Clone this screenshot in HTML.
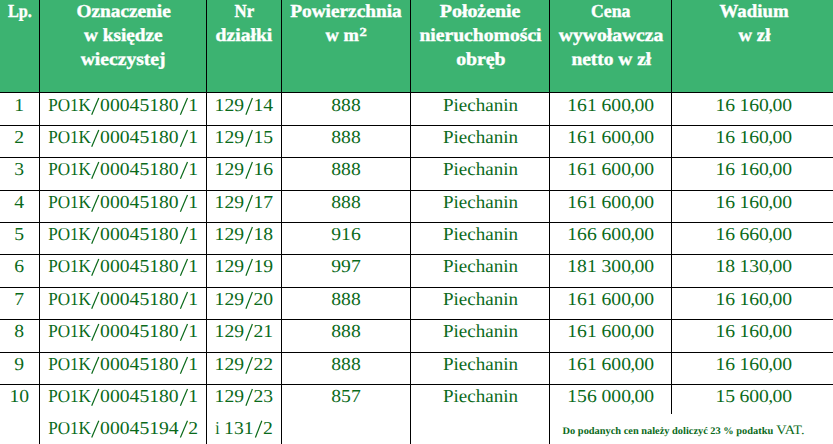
<!DOCTYPE html>
<html lang="pl">
<head>
<meta charset="utf-8">
<title>Tabela</title>
<style>
html,body{margin:0;padding:0;background:#fff;overflow:hidden}
body{width:833px;height:444px;font-family:"Liberation Serif",serif}
svg{display:block}
text{font-family:"Liberation Serif",serif;text-rendering:geometricPrecision}
.h{fill:#fff;font-weight:bold;stroke:#fff;stroke-width:0.4}
.b{fill:#0a6a1a}
.n{fill:#0a6a1a;font-weight:bold}
.v{fill:#0a6a1a}
.s{stroke:#0a6a1a;stroke-width:1.2;fill:none}
</style>
</head>
<body>
<svg width="833" height="444" viewBox="0 0 833 444">
<rect x="0" y="0" width="833" height="444" fill="#fff"/>
<rect x="0" y="0" width="833" height="92" fill="#3cb371"/>
<g fill="#000" shape-rendering="crispEdges">
<rect x="0" y="92" width="833" height="1"/>
<rect x="0" y="125" width="833" height="1"/>
<rect x="0" y="157" width="833" height="1"/>
<rect x="0" y="190" width="833" height="1"/>
<rect x="0" y="222" width="833" height="1"/>
<rect x="0" y="254" width="833" height="1"/>
<rect x="0" y="287" width="833" height="1"/>
<rect x="0" y="319" width="833" height="1"/>
<rect x="0" y="352" width="833" height="1"/>
<rect x="0" y="384" width="833" height="1"/>
<rect x="39" y="0" width="1" height="444"/>
<rect x="206" y="0" width="1" height="444"/>
<rect x="281" y="0" width="1" height="444"/>
<rect x="410" y="0" width="1" height="444"/>
<rect x="549" y="0" width="1" height="444"/>
<rect x="671" y="0" width="1" height="414"/>
</g>
<text class="h" x="8.00" y="17.00" textLength="23.90" lengthAdjust="spacingAndGlyphs" font-size="18.3">Lp.</text>
<text class="h" x="76.40" y="17.00" textLength="94.40" lengthAdjust="spacingAndGlyphs" font-size="18.3">Oznaczenie</text>
<text class="h" x="84.00" y="41.00" textLength="78.60" lengthAdjust="spacingAndGlyphs" font-size="18.3">w księdze</text>
<text class="h" x="80.70" y="65.00" textLength="84.90" lengthAdjust="spacingAndGlyphs" font-size="18.3">wieczystej</text>
<text class="h" x="234.60" y="17.00" textLength="19.60" lengthAdjust="spacingAndGlyphs" font-size="18.3">Nr</text>
<text class="h" x="215.60" y="41.00" textLength="56.70" lengthAdjust="spacingAndGlyphs" font-size="18.3">działki</text>
<text class="h" x="290.20" y="17.00" textLength="111.50" lengthAdjust="spacingAndGlyphs" font-size="18.3">Powierzchnia</text>
<text class="h" x="325.50" y="41.00" textLength="33.30" lengthAdjust="spacingAndGlyphs" font-size="18.3">w m</text>
<text class="h" x="359.60" y="36.00" textLength="7.30" lengthAdjust="spacingAndGlyphs" font-size="12.3">2</text>
<text class="h" x="439.80" y="17.00" textLength="80.60" lengthAdjust="spacingAndGlyphs" font-size="18.3">Położenie</text>
<text class="h" x="419.40" y="41.00" textLength="122.20" lengthAdjust="spacingAndGlyphs" font-size="18.3">nieruchomości</text>
<text class="h" x="456.20" y="65.00" textLength="49.40" lengthAdjust="spacingAndGlyphs" font-size="18.3">obręb</text>
<text class="h" x="591.00" y="17.00" textLength="39.40" lengthAdjust="spacingAndGlyphs" font-size="18.3">Cena</text>
<text class="h" x="558.80" y="41.00" textLength="104.50" lengthAdjust="spacingAndGlyphs" font-size="18.3">wywoławcza</text>
<text class="h" x="571.40" y="65.00" textLength="79.80" lengthAdjust="spacingAndGlyphs" font-size="18.3">netto w zł</text>
<text class="h" x="719.60" y="17.00" textLength="69.00" lengthAdjust="spacingAndGlyphs" font-size="18.3">Wadium</text>
<text class="h" x="738.60" y="41.00" textLength="31.80" lengthAdjust="spacingAndGlyphs" font-size="18.3">w zł</text>
<text class="b" x="48.20" y="111.00" textLength="42.80" lengthAdjust="spacingAndGlyphs" font-size="18.3">PO1K</text>
<text class="b" x="443.00" y="111.00" textLength="75.00" lengthAdjust="spacingAndGlyphs" font-size="18.3">Piechanin</text>
<text class="b" x="48.20" y="143.00" textLength="42.80" lengthAdjust="spacingAndGlyphs" font-size="18.3">PO1K</text>
<text class="b" x="443.00" y="143.00" textLength="75.00" lengthAdjust="spacingAndGlyphs" font-size="18.3">Piechanin</text>
<text class="b" x="48.20" y="175.00" textLength="42.80" lengthAdjust="spacingAndGlyphs" font-size="18.3">PO1K</text>
<text class="b" x="443.00" y="175.00" textLength="75.00" lengthAdjust="spacingAndGlyphs" font-size="18.3">Piechanin</text>
<text class="b" x="48.20" y="208.00" textLength="42.80" lengthAdjust="spacingAndGlyphs" font-size="18.3">PO1K</text>
<text class="b" x="443.00" y="208.00" textLength="75.00" lengthAdjust="spacingAndGlyphs" font-size="18.3">Piechanin</text>
<text class="b" x="48.20" y="240.00" textLength="42.80" lengthAdjust="spacingAndGlyphs" font-size="18.3">PO1K</text>
<text class="b" x="443.00" y="240.00" textLength="75.00" lengthAdjust="spacingAndGlyphs" font-size="18.3">Piechanin</text>
<text class="b" x="48.20" y="272.00" textLength="42.80" lengthAdjust="spacingAndGlyphs" font-size="18.3">PO1K</text>
<text class="b" x="443.00" y="272.00" textLength="75.00" lengthAdjust="spacingAndGlyphs" font-size="18.3">Piechanin</text>
<text class="b" x="48.20" y="305.00" textLength="42.80" lengthAdjust="spacingAndGlyphs" font-size="18.3">PO1K</text>
<text class="b" x="443.00" y="305.00" textLength="75.00" lengthAdjust="spacingAndGlyphs" font-size="18.3">Piechanin</text>
<text class="b" x="48.20" y="337.00" textLength="42.80" lengthAdjust="spacingAndGlyphs" font-size="18.3">PO1K</text>
<text class="b" x="443.00" y="337.00" textLength="75.00" lengthAdjust="spacingAndGlyphs" font-size="18.3">Piechanin</text>
<text class="b" x="48.20" y="370.00" textLength="42.80" lengthAdjust="spacingAndGlyphs" font-size="18.3">PO1K</text>
<text class="b" x="443.00" y="370.00" textLength="75.00" lengthAdjust="spacingAndGlyphs" font-size="18.3">Piechanin</text>
<text class="b" x="48.20" y="402.00" textLength="42.80" lengthAdjust="spacingAndGlyphs" font-size="18.3">PO1K</text>
<text class="b" x="443.00" y="402.00" textLength="75.00" lengthAdjust="spacingAndGlyphs" font-size="18.3">Piechanin</text>
<text class="b" x="48.20" y="433.70" textLength="42.80" lengthAdjust="spacingAndGlyphs" font-size="18.3">PO1K</text>
<text class="b" x="215.35" y="433.70" textLength="4.35" lengthAdjust="spacingAndGlyphs" font-size="18.3">i</text>
<text class="n" x="562.60" y="433.70" textLength="210.60" lengthAdjust="spacingAndGlyphs" font-size="10.1">Do podanych cen należy doliczyć 23 % podatku</text>
<text class="v" x="776.20" y="433.70" textLength="28.40" lengthAdjust="spacingAndGlyphs" font-size="12.9">VAT.</text>
<text class="b" transform="translate(14.30,111.00) scale(1.0743,1)" font-size="18.3">1</text>
<text class="b" transform="translate(100.10,111.00) scale(1.0743,1)" font-size="18.3">00045180</text>
<text class="b" transform="translate(188.20,111.00) scale(1.0743,1)" font-size="18.3">1</text>
<text class="b" transform="translate(214.60,111.00) scale(1.0743,1)" font-size="18.3">129</text>
<text class="b" transform="translate(253.40,111.00) scale(1.0743,1)" font-size="18.3">14</text>
<text class="b" transform="translate(331.25,111.00) scale(1.0743,1)" font-size="18.3">888</text>
<text class="b" transform="translate(567.30,111.00) scale(1.0743,1)" font-size="18.3">161</text>
<text class="b" transform="translate(601.50,111.00) scale(1.0743,1)" font-size="18.3" dx="0 0 0 -0.61 -0.61 0">600,00</text>
<text class="b" transform="translate(715.40,111.00) scale(1.0743,1)" font-size="18.3">16</text>
<text class="b" transform="translate(739.40,111.00) scale(1.0743,1)" font-size="18.3" dx="0 0 0 -0.61 -0.61 0">160,00</text>
<text class="b" transform="translate(14.30,143.00) scale(1.0743,1)" font-size="18.3">2</text>
<text class="b" transform="translate(100.10,143.00) scale(1.0743,1)" font-size="18.3">00045180</text>
<text class="b" transform="translate(188.20,143.00) scale(1.0743,1)" font-size="18.3">1</text>
<text class="b" transform="translate(214.60,143.00) scale(1.0743,1)" font-size="18.3">129</text>
<text class="b" transform="translate(253.40,143.00) scale(1.0743,1)" font-size="18.3">15</text>
<text class="b" transform="translate(331.25,143.00) scale(1.0743,1)" font-size="18.3">888</text>
<text class="b" transform="translate(567.30,143.00) scale(1.0743,1)" font-size="18.3">161</text>
<text class="b" transform="translate(601.50,143.00) scale(1.0743,1)" font-size="18.3" dx="0 0 0 -0.61 -0.61 0">600,00</text>
<text class="b" transform="translate(715.40,143.00) scale(1.0743,1)" font-size="18.3">16</text>
<text class="b" transform="translate(739.40,143.00) scale(1.0743,1)" font-size="18.3" dx="0 0 0 -0.61 -0.61 0">160,00</text>
<text class="b" transform="translate(14.30,175.00) scale(1.0743,1)" font-size="18.3">3</text>
<text class="b" transform="translate(100.10,175.00) scale(1.0743,1)" font-size="18.3">00045180</text>
<text class="b" transform="translate(188.20,175.00) scale(1.0743,1)" font-size="18.3">1</text>
<text class="b" transform="translate(214.60,175.00) scale(1.0743,1)" font-size="18.3">129</text>
<text class="b" transform="translate(253.40,175.00) scale(1.0743,1)" font-size="18.3">16</text>
<text class="b" transform="translate(331.25,175.00) scale(1.0743,1)" font-size="18.3">888</text>
<text class="b" transform="translate(567.30,175.00) scale(1.0743,1)" font-size="18.3">161</text>
<text class="b" transform="translate(601.50,175.00) scale(1.0743,1)" font-size="18.3" dx="0 0 0 -0.61 -0.61 0">600,00</text>
<text class="b" transform="translate(715.40,175.00) scale(1.0743,1)" font-size="18.3">16</text>
<text class="b" transform="translate(739.40,175.00) scale(1.0743,1)" font-size="18.3" dx="0 0 0 -0.61 -0.61 0">160,00</text>
<text class="b" transform="translate(14.30,208.00) scale(1.0743,1)" font-size="18.3">4</text>
<text class="b" transform="translate(100.10,208.00) scale(1.0743,1)" font-size="18.3">00045180</text>
<text class="b" transform="translate(188.20,208.00) scale(1.0743,1)" font-size="18.3">1</text>
<text class="b" transform="translate(214.60,208.00) scale(1.0743,1)" font-size="18.3">129</text>
<text class="b" transform="translate(253.40,208.00) scale(1.0743,1)" font-size="18.3">17</text>
<text class="b" transform="translate(331.25,208.00) scale(1.0743,1)" font-size="18.3">888</text>
<text class="b" transform="translate(567.30,208.00) scale(1.0743,1)" font-size="18.3">161</text>
<text class="b" transform="translate(601.50,208.00) scale(1.0743,1)" font-size="18.3" dx="0 0 0 -0.61 -0.61 0">600,00</text>
<text class="b" transform="translate(715.40,208.00) scale(1.0743,1)" font-size="18.3">16</text>
<text class="b" transform="translate(739.40,208.00) scale(1.0743,1)" font-size="18.3" dx="0 0 0 -0.61 -0.61 0">160,00</text>
<text class="b" transform="translate(14.30,240.00) scale(1.0743,1)" font-size="18.3">5</text>
<text class="b" transform="translate(100.10,240.00) scale(1.0743,1)" font-size="18.3">00045180</text>
<text class="b" transform="translate(188.20,240.00) scale(1.0743,1)" font-size="18.3">1</text>
<text class="b" transform="translate(214.60,240.00) scale(1.0743,1)" font-size="18.3">129</text>
<text class="b" transform="translate(253.40,240.00) scale(1.0743,1)" font-size="18.3">18</text>
<text class="b" transform="translate(331.25,240.00) scale(1.0743,1)" font-size="18.3">916</text>
<text class="b" transform="translate(567.30,240.00) scale(1.0743,1)" font-size="18.3">166</text>
<text class="b" transform="translate(601.50,240.00) scale(1.0743,1)" font-size="18.3" dx="0 0 0 -0.61 -0.61 0">600,00</text>
<text class="b" transform="translate(715.40,240.00) scale(1.0743,1)" font-size="18.3">16</text>
<text class="b" transform="translate(739.40,240.00) scale(1.0743,1)" font-size="18.3" dx="0 0 0 -0.61 -0.61 0">660,00</text>
<text class="b" transform="translate(14.30,272.00) scale(1.0743,1)" font-size="18.3">6</text>
<text class="b" transform="translate(100.10,272.00) scale(1.0743,1)" font-size="18.3">00045180</text>
<text class="b" transform="translate(188.20,272.00) scale(1.0743,1)" font-size="18.3">1</text>
<text class="b" transform="translate(214.60,272.00) scale(1.0743,1)" font-size="18.3">129</text>
<text class="b" transform="translate(253.40,272.00) scale(1.0743,1)" font-size="18.3">19</text>
<text class="b" transform="translate(331.25,272.00) scale(1.0743,1)" font-size="18.3">997</text>
<text class="b" transform="translate(567.30,272.00) scale(1.0743,1)" font-size="18.3">181</text>
<text class="b" transform="translate(601.50,272.00) scale(1.0743,1)" font-size="18.3" dx="0 0 0 -0.61 -0.61 0">300,00</text>
<text class="b" transform="translate(715.40,272.00) scale(1.0743,1)" font-size="18.3">18</text>
<text class="b" transform="translate(739.40,272.00) scale(1.0743,1)" font-size="18.3" dx="0 0 0 -0.61 -0.61 0">130,00</text>
<text class="b" transform="translate(14.30,305.00) scale(1.0743,1)" font-size="18.3">7</text>
<text class="b" transform="translate(100.10,305.00) scale(1.0743,1)" font-size="18.3">00045180</text>
<text class="b" transform="translate(188.20,305.00) scale(1.0743,1)" font-size="18.3">1</text>
<text class="b" transform="translate(214.60,305.00) scale(1.0743,1)" font-size="18.3">129</text>
<text class="b" transform="translate(253.40,305.00) scale(1.0743,1)" font-size="18.3">20</text>
<text class="b" transform="translate(331.25,305.00) scale(1.0743,1)" font-size="18.3">888</text>
<text class="b" transform="translate(567.30,305.00) scale(1.0743,1)" font-size="18.3">161</text>
<text class="b" transform="translate(601.50,305.00) scale(1.0743,1)" font-size="18.3" dx="0 0 0 -0.61 -0.61 0">600,00</text>
<text class="b" transform="translate(715.40,305.00) scale(1.0743,1)" font-size="18.3">16</text>
<text class="b" transform="translate(739.40,305.00) scale(1.0743,1)" font-size="18.3" dx="0 0 0 -0.61 -0.61 0">160,00</text>
<text class="b" transform="translate(14.30,337.00) scale(1.0743,1)" font-size="18.3">8</text>
<text class="b" transform="translate(100.10,337.00) scale(1.0743,1)" font-size="18.3">00045180</text>
<text class="b" transform="translate(188.20,337.00) scale(1.0743,1)" font-size="18.3">1</text>
<text class="b" transform="translate(214.60,337.00) scale(1.0743,1)" font-size="18.3">129</text>
<text class="b" transform="translate(253.40,337.00) scale(1.0743,1)" font-size="18.3">21</text>
<text class="b" transform="translate(331.25,337.00) scale(1.0743,1)" font-size="18.3">888</text>
<text class="b" transform="translate(567.30,337.00) scale(1.0743,1)" font-size="18.3">161</text>
<text class="b" transform="translate(601.50,337.00) scale(1.0743,1)" font-size="18.3" dx="0 0 0 -0.61 -0.61 0">600,00</text>
<text class="b" transform="translate(715.40,337.00) scale(1.0743,1)" font-size="18.3">16</text>
<text class="b" transform="translate(739.40,337.00) scale(1.0743,1)" font-size="18.3" dx="0 0 0 -0.61 -0.61 0">160,00</text>
<text class="b" transform="translate(14.30,370.00) scale(1.0743,1)" font-size="18.3">9</text>
<text class="b" transform="translate(100.10,370.00) scale(1.0743,1)" font-size="18.3">00045180</text>
<text class="b" transform="translate(188.20,370.00) scale(1.0743,1)" font-size="18.3">1</text>
<text class="b" transform="translate(214.60,370.00) scale(1.0743,1)" font-size="18.3">129</text>
<text class="b" transform="translate(253.40,370.00) scale(1.0743,1)" font-size="18.3">22</text>
<text class="b" transform="translate(331.25,370.00) scale(1.0743,1)" font-size="18.3">888</text>
<text class="b" transform="translate(567.30,370.00) scale(1.0743,1)" font-size="18.3">161</text>
<text class="b" transform="translate(601.50,370.00) scale(1.0743,1)" font-size="18.3" dx="0 0 0 -0.61 -0.61 0">600,00</text>
<text class="b" transform="translate(715.40,370.00) scale(1.0743,1)" font-size="18.3">16</text>
<text class="b" transform="translate(739.40,370.00) scale(1.0743,1)" font-size="18.3" dx="0 0 0 -0.61 -0.61 0">160,00</text>
<text class="b" transform="translate(9.40,402.00) scale(1.0743,1)" font-size="18.3">10</text>
<text class="b" transform="translate(100.10,402.00) scale(1.0743,1)" font-size="18.3">00045180</text>
<text class="b" transform="translate(188.20,402.00) scale(1.0743,1)" font-size="18.3">1</text>
<text class="b" transform="translate(214.60,402.00) scale(1.0743,1)" font-size="18.3">129</text>
<text class="b" transform="translate(253.40,402.00) scale(1.0743,1)" font-size="18.3">23</text>
<text class="b" transform="translate(331.25,402.00) scale(1.0743,1)" font-size="18.3">857</text>
<text class="b" transform="translate(567.30,402.00) scale(1.0743,1)" font-size="18.3">156</text>
<text class="b" transform="translate(601.50,402.00) scale(1.0743,1)" font-size="18.3" dx="0 0 0 -0.61 -0.61 0">000,00</text>
<text class="b" transform="translate(715.40,402.00) scale(1.0743,1)" font-size="18.3">15</text>
<text class="b" transform="translate(739.40,402.00) scale(1.0743,1)" font-size="18.3" dx="0 0 0 -0.61 -0.61 0">600,00</text>
<text class="b" transform="translate(100.10,433.70) scale(1.0743,1)" font-size="18.3">00045194</text>
<text class="b" transform="translate(188.20,433.70) scale(1.0743,1)" font-size="18.3">2</text>
<text class="b" transform="translate(224.10,433.70) scale(1.0743,1)" font-size="18.3">131</text>
<text class="b" transform="translate(263.00,433.70) scale(1.0743,1)" font-size="18.3">2</text>
<g class="s">
<line x1="91.70" y1="114.80" x2="98.80" y2="98.00"/>
<line x1="180.40" y1="114.80" x2="187.50" y2="98.00"/>
<line x1="245.90" y1="114.80" x2="252.40" y2="98.00"/>
<line x1="91.70" y1="146.80" x2="98.80" y2="130.00"/>
<line x1="180.40" y1="146.80" x2="187.50" y2="130.00"/>
<line x1="245.90" y1="146.80" x2="252.40" y2="130.00"/>
<line x1="91.70" y1="178.80" x2="98.80" y2="162.00"/>
<line x1="180.40" y1="178.80" x2="187.50" y2="162.00"/>
<line x1="245.90" y1="178.80" x2="252.40" y2="162.00"/>
<line x1="91.70" y1="211.80" x2="98.80" y2="195.00"/>
<line x1="180.40" y1="211.80" x2="187.50" y2="195.00"/>
<line x1="245.90" y1="211.80" x2="252.40" y2="195.00"/>
<line x1="91.70" y1="243.80" x2="98.80" y2="227.00"/>
<line x1="180.40" y1="243.80" x2="187.50" y2="227.00"/>
<line x1="245.90" y1="243.80" x2="252.40" y2="227.00"/>
<line x1="91.70" y1="275.80" x2="98.80" y2="259.00"/>
<line x1="180.40" y1="275.80" x2="187.50" y2="259.00"/>
<line x1="245.90" y1="275.80" x2="252.40" y2="259.00"/>
<line x1="91.70" y1="308.80" x2="98.80" y2="292.00"/>
<line x1="180.40" y1="308.80" x2="187.50" y2="292.00"/>
<line x1="245.90" y1="308.80" x2="252.40" y2="292.00"/>
<line x1="91.70" y1="340.80" x2="98.80" y2="324.00"/>
<line x1="180.40" y1="340.80" x2="187.50" y2="324.00"/>
<line x1="245.90" y1="340.80" x2="252.40" y2="324.00"/>
<line x1="91.70" y1="373.80" x2="98.80" y2="357.00"/>
<line x1="180.40" y1="373.80" x2="187.50" y2="357.00"/>
<line x1="245.90" y1="373.80" x2="252.40" y2="357.00"/>
<line x1="91.70" y1="405.80" x2="98.80" y2="389.00"/>
<line x1="180.40" y1="405.80" x2="187.50" y2="389.00"/>
<line x1="245.90" y1="405.80" x2="252.40" y2="389.00"/>
<line x1="91.70" y1="437.50" x2="98.80" y2="420.70"/>
<line x1="180.40" y1="437.50" x2="187.50" y2="420.70"/>
<line x1="255.40" y1="437.50" x2="261.80" y2="420.70"/>
</g>
</svg>
</body>
</html>
